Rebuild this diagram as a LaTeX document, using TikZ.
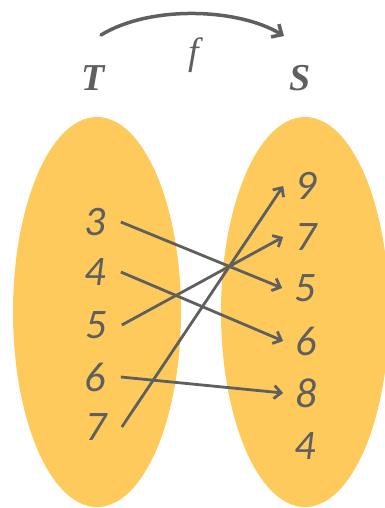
\documentclass[tikz,border=0pt]{standalone}
\usepackage{fontspec}
\usetikzlibrary{arrows.meta}
\newfontfamily\numfont{Carlito}
\newfontfamily\serfont{Liberation Serif}
\definecolor{setfill}{HTML}{FECA5C}
\definecolor{ink}{HTML}{5F5F5F}
\begin{document}
\begin{tikzpicture}[x=1pt,y=-1pt,
  setblob/.style={fill=setfill,draw=none},
  lnum/.style={text=ink,font=\numfont\itshape\fontsize{42}{42}\selectfont,inner ysep=0pt,inner xsep=15pt},
  rnum/.style={text=ink,font=\numfont\itshape\fontsize{42}{42}\selectfont,inner ysep=0pt,inner xsep=12pt},
  setname/.style={text=ink,font=\serfont\bfseries\itshape\fontsize{38}{38}\selectfont,inner sep=0pt},
  arr/.style={draw=ink,line width=2.8pt,-{Straight Barb[length=7pt,width=13pt,line width=2.8pt]}},
  arc/.style={draw=ink,line width=3.5pt,line cap=round,-{Straight Barb[length=8pt,width=15pt,line width=3.5pt]}}]
\clip (0,0) rectangle (385,508);
\useasboundingbox (0,0) rectangle (385,508);
\fill[setblob] (97,312) ellipse [x radius=84, y radius=195];
\fill[setblob] (305,312) ellipse [x radius=84, y radius=195];
% set names and map label
\node[setname] (T) at (93,78) {T};
\node[setname] (S) at (300,78) {S};
\node[text=ink,font=\serfont\itshape\fontsize{38}{38}\selectfont,inner sep=0pt] (f) at (194,55) {f};
\coordinate (arcA) at (101,35);
\coordinate (arcB) at (284,36);
\draw[arc] (arcA) .. controls (150,5) and (238,8) .. (arcB);
% left set
\node[lnum] (l3) at (95,222) {3};
\node[lnum] (l4) at (95,272) {4};
\node[lnum] (l5) at (96,325) {5};
\node[lnum] (l6) at (95,377) {6};
\node[lnum] (l7) at (96,427) {7};
% right set
\node[rnum] (r9) at (306,186) {9};
\node[rnum] (r7) at (306,237) {7};
\node[rnum] (r5) at (305,288) {5};
\node[rnum] (r6) at (306,341) {6};
\node[rnum] (r8) at (306,393) {8};
\node[rnum] (r4) at (305,446) {4};
% mapping
\draw[arr] (l3.east) -- (r5.west);
\draw[arr] (l4.east) -- (r6.west);
\draw[arr] (l5.east) -- (r7.west);
\draw[arr] (l6.east) -- (r8.west);
\draw[arr] (l7.east) -- (r9.west);
\end{tikzpicture}
\end{document}
